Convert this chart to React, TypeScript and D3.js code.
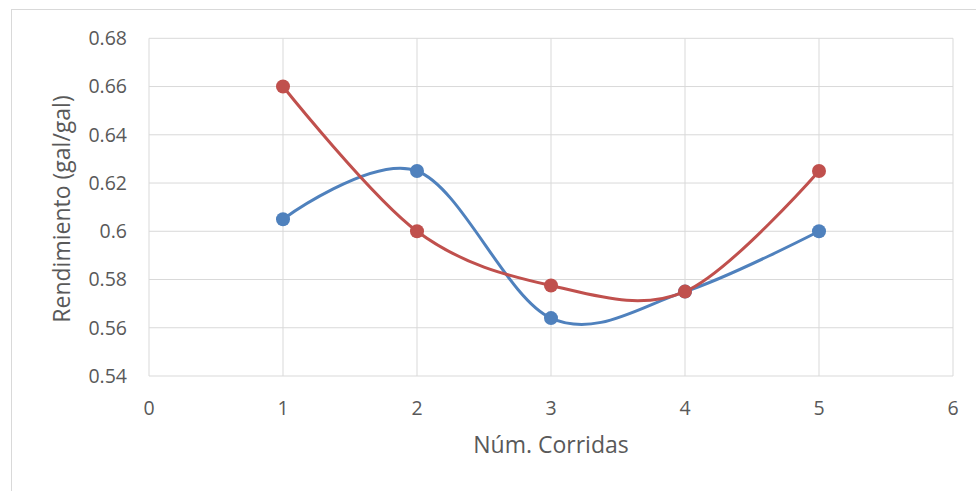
import React from "react";
import * as d3 from "d3";

// Runs on the x axis and yield values for the two series
const runs = [1, 2, 3, 4, 5];
const seriesBlue = [0.605, 0.625, 0.564, 0.575, 0.6];
const seriesRed = [0.66, 0.6, 0.5775, 0.575, 0.625];
const xTicks = [0, 1, 2, 3, 4, 5, 6];
const yTicks = [0.54, 0.56, 0.58, 0.6, 0.62, 0.64, 0.66, 0.68];

const W = 976;
const H = 491;
const plot = { left: 149, right: 953, top: 38.3, bottom: 376 };
const FONT = "'Open Sans', 'Noto Sans', sans-serif";
const TEXT = "#595959";
const GRID = "#D9D9D9";

export default function App() {
  const x = d3.scaleLinear().domain([0, 6]).range([plot.left, plot.right]);
  const y = d3.scaleLinear().domain([0.54, 0.68]).range([plot.bottom, plot.top]);

  const line = d3
    .line<[number, number]>()
    .x((d) => x(d[0]))
    .y((d) => y(d[1]))
    .curve(d3.curveCardinal.tension(0));

  const series = [
    { values: seriesBlue, color: "#4F81BD" },
    { values: seriesRed, color: "#C0504D" },
  ];

  return (
    <svg
      width={W}
      height={H}
      style={{ position: "absolute", left: 0, top: 0, background: "#fff" }}
    >
      {/* chart area border */}
      <rect x={11.5} y={9.5} width={W + 20} height={H + 20} fill="#fff" stroke={GRID} strokeWidth={1} />

      {/* gridlines */}
      {yTicks.map((t) => (
        <line key={"gy" + t} x1={plot.left} x2={plot.right} y1={y(t)} y2={y(t)} stroke={GRID} strokeWidth={1} />
      ))}
      {xTicks.map((t) => (
        <line key={"gx" + t} x1={x(t)} x2={x(t)} y1={plot.top} y2={plot.bottom} stroke={GRID} strokeWidth={1} />
      ))}

      {/* tick labels */}
      {yTicks.map((t) => (
        <text
          key={"ly" + t}
          x={127}
          y={y(t)}
          dy="0.35em"
          textAnchor="end"
          fontFamily={FONT}
          fontSize={19.5}
          fill={TEXT}
        >
          {d3.format("")(+t.toFixed(2))}
        </text>
      ))}
      {xTicks.map((t) => (
        <text
          key={"lx" + t}
          x={x(t)}
          y={415}
          textAnchor="middle"
          fontFamily={FONT}
          fontSize={19.5}
          fill={TEXT}
        >
          {t}
        </text>
      ))}

      {/* axis titles */}
      <text x={551} y={453} textAnchor="middle" fontFamily={FONT} fontSize={23} fill={TEXT}>
        Núm. Corridas
      </text>
      <text
        transform={`translate(70,209) rotate(-90)`}
        textAnchor="middle"
        fontFamily={FONT}
        fontSize={23}
        fill={TEXT}
      >
        Rendimiento (gal/gal)
      </text>

      {/* series */}
      {series.map((s, i) => {
        const pts: [number, number][] = runs.map((r, j) => [r, s.values[j]]);
        return (
          <g key={"s" + i}>
            <path d={line(pts) || ""} fill="none" stroke={s.color} strokeWidth={3} strokeLinecap="round" />
            {pts.map((p, j) => (
              <circle key={j} cx={x(p[0])} cy={y(p[1])} r={7} fill={s.color} />
            ))}
          </g>
        );
      })}
    </svg>
  );
}
